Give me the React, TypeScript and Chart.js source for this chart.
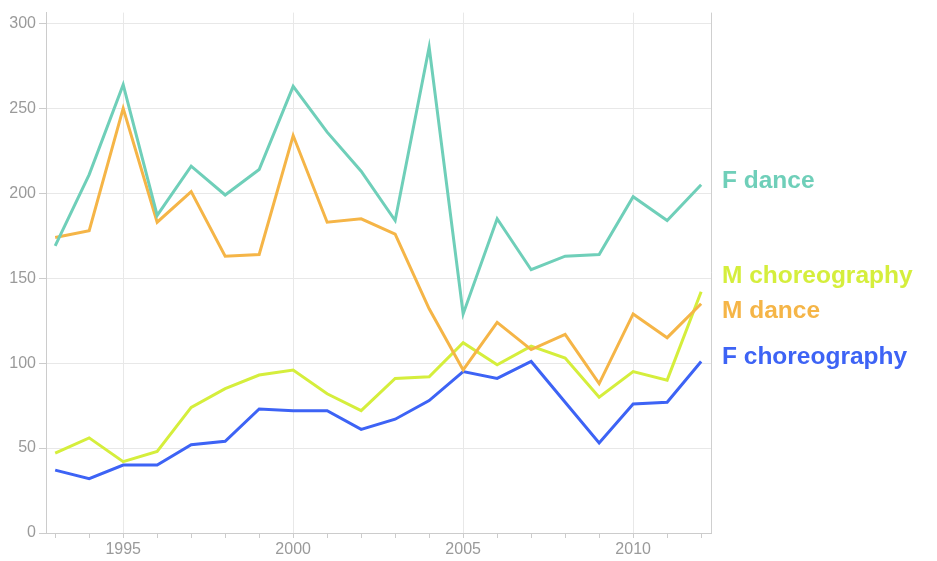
import React, { useEffect, useRef } from "react";
import { Chart, registerables } from "chart.js";

Chart.register(...registerables);

const years = [1993, 1994, 1995, 1996, 1997, 1998, 1999, 2000, 2001, 2002, 2003, 2004, 2005, 2006, 2007, 2008, 2009, 2010, 2011, 2012];
const fDance = [169, 211, 264, 187, 216, 199, 214, 263, 236, 213, 184, 286, 129, 185, 155, 163, 164, 198, 184, 205];
const mDance = [174, 178, 250, 183, 201, 163, 164, 234, 183, 185, 176, 132, 96, 124, 108, 117, 88, 129, 115, 135];
const mChoreo = [47, 56, 42, 48, 74, 85, 93, 96, 82, 72, 91, 92, 112, 99, 110, 103, 80, 95, 90, 142];
const fChoreo = [37, 32, 40, 40, 52, 54, 73, 72, 72, 61, 67, 78, 95, 91, 101, 77, 53, 76, 77, 101];
const yTicks = [0, 50, 100, 150, 200, 250, 300];
const seriesNames = ["F dance", "M dance", "M choreography", "F choreography"];
const seriesColors = ["#6fcfb9", "#f5b547", "#d5ee3c", "#3d63f5"];

const FONT = "'Liberation Sans', Arial, sans-serif";

const endLabels = {
  id: "endLabels",
  afterDatasetsDraw(chart: any) {
    const { ctx, chartArea, scales } = chart;
    // right border
    ctx.save();
    ctx.strokeStyle = "#cfcfcf";
    ctx.lineWidth = 1;
    ctx.beginPath();
    ctx.moveTo(Math.round(chartArea.right) + 0.5, chartArea.top);
    ctx.lineTo(Math.round(chartArea.right) + 0.5, chartArea.bottom);
    ctx.stroke();

    const items = chart.data.datasets.map((ds: any, i: number) => {
      const last = ds.data[ds.data.length - 1].y;
      return { text: ds.label, color: ds.borderColor, y: scales.y.getPixelForValue(last) - 4 };
    });
    items.sort((a: any, b: any) => a.y - b.y);
    const gap = 35;
    for (let it = 0; it < 100; it++) {
      for (let i = 0; i < items.length - 1; i++) {
        const d = items[i + 1].y - items[i].y;
        if (d < gap) {
          const s = (gap - d) / 2;
          items[i].y -= s;
          items[i + 1].y += s;
        }
      }
    }
    ctx.font = `bold 24.5px ${FONT}`;
    ctx.textAlign = "left";
    ctx.textBaseline = "middle";
    items.forEach((it: any) => {
      ctx.fillStyle = it.color;
      ctx.fillText(it.text, chartArea.right + 11, it.y);
    });
    ctx.restore();
  },
};

export default function App() {
  const ref = useRef<HTMLCanvasElement | null>(null);
  useEffect(() => {
    if (!ref.current) return;
    const all = [fDance, mDance, mChoreo, fChoreo];
    const chart = new Chart(ref.current, {
      type: "line",
      data: {
        datasets: all.map((vals, i) => ({
          label: seriesNames[i],
          data: years.map((yr, j) => ({ x: yr, y: vals[j] })),
          borderColor: seriesColors[i],
          backgroundColor: seriesColors[i],
          borderWidth: 3,
          pointRadius: 0,
          tension: 0,
          fill: false,
        })),
      },
      options: {
        animation: false,
        responsive: false,
        layout: { padding: { top: 10, right: 226, bottom: 0, left: 0 } },
        plugins: { legend: { display: false }, tooltip: { enabled: false } },
        scales: {
          x: {
            type: "linear",
            min: 1992.73,
            max: 2012.29,
            afterBuildTicks: (scale: any) => {
              scale.ticks = years.map((v) => ({ value: v }));
            },
            afterFit: (scale: any) => {
              scale.height = 28;
            },
            ticks: {
              autoSkip: false,
              maxRotation: 0,
              padding: 2,
              color: "#9a9a9a",
              font: { family: FONT, size: 16 },
              callback: (v: any) => (Number(v) % 5 === 0 ? String(v) : ""),
            },
            grid: {
              color: (c: any) => (c.tick && c.tick.value % 5 === 0 ? "#e8e8e8" : "rgba(0,0,0,0)"),
              tickColor: "#cccccc",
              tickLength: 5,
              drawTicks: true,
            },
            border: { color: "#cccccc" },
          },
          y: {
            type: "linear",
            min: 0,
            max: 306.4,
            afterBuildTicks: (scale: any) => {
              scale.ticks = yTicks.map((v) => ({ value: v }));
            },
            afterFit: (scale: any) => {
              scale.width = 46;
            },
            ticks: {
              padding: 3,
              color: "#9a9a9a",
              font: { family: FONT, size: 16 },
            },
            grid: {
              color: "#e8e8e8",
              tickColor: "#cccccc",
              tickLength: 7,
            },
            border: { color: "#cccccc" },
          },
        },
      },
      plugins: [endLabels],
    } as any);
    return () => chart.destroy();
  }, []);
  return (
    <div style={{ position: "absolute", left: 0, top: 0, width: 937, height: 561 }}>
      <canvas ref={ref} width={937} height={561} style={{ width: 937, height: 561 }} />
    </div>
  );
}
